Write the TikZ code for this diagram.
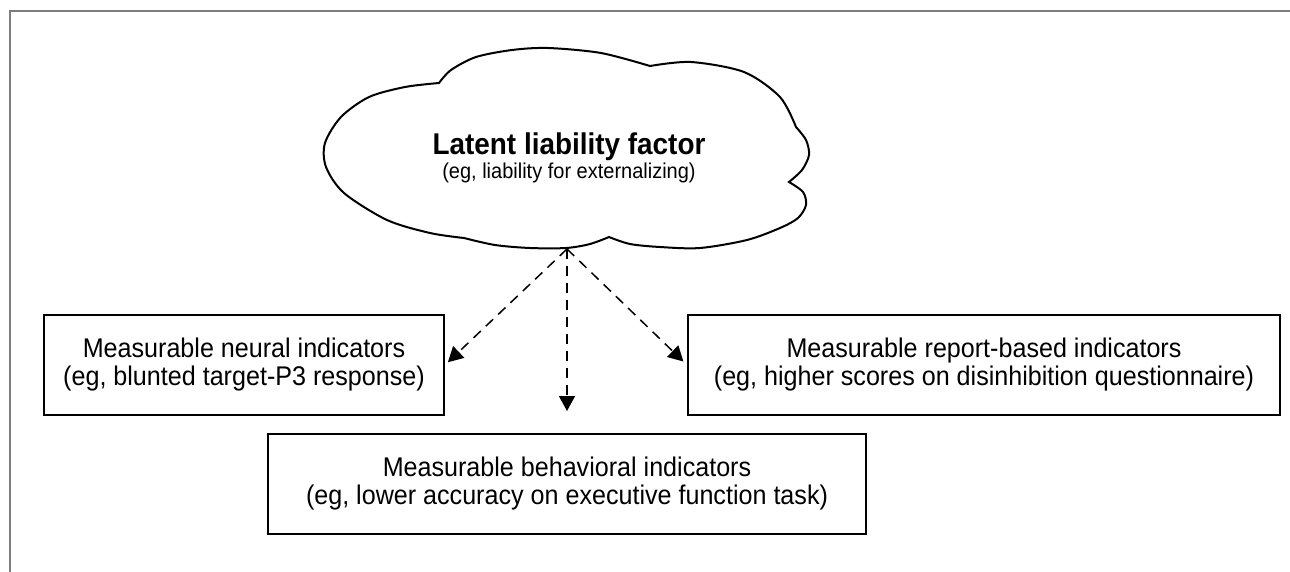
\documentclass[tikz,border=0pt]{standalone}
\usepackage{fontspec}
\setmainfont{Liberation Sans}[FakeStretch=0.93]
\usetikzlibrary{arrows.meta,positioning}
\definecolor{framegray}{RGB}{125,125,125}

\tikzset{
  indbox/.style={draw, line width=2pt, inner sep=0pt, align=center, minimum height=100pt, font=\fontsize{27}{28}\selectfont},
  linkarrow/.style={->, dash pattern=on 10pt off 7pt, line width=1.5pt},
}

\begin{document}
\begin{tikzpicture}[x=1pt,y=-1pt,>={Triangle[length=15pt,width=16pt]}]
\useasboundingbox (0,0) rectangle (1290,571);
% frame (only top and left visible)
\draw[framegray, line width=2pt] (1292,11) -- (10,11) -- (10,573);
% cloud, puff by puff
\draw[line width=2pt]
  plot[smooth] coordinates {(464,238) (430,233) (387,220) (344,193) (326,167) (325,143) (341,117) (369,97) (405,87) (439,83)}
  -- plot[smooth] coordinates {(439,83) (451,70) (476,57) (512,50) (548,48) (601,53) (650,66)}
  -- plot[smooth] coordinates {(650,66) (691,62) (744,72) (780,97) (796,127)}
  -- plot[smooth] coordinates {(796,127) (806,140) (809,155) (802,170) (789,182)}
  -- plot[smooth] coordinates {(789,182) (803,192) (806,205) (798,218) (780,228) (747,240) (700,248) (660,247) (630,244) (609,237)}
  -- plot[smooth] coordinates {(609,237) (590,244) (566,248) (530,248) (495,245) (464,238)}
  -- cycle;
\node[anchor=base] (latent) at (569,154) {\fontsize{30}{30}\selectfont\bfseries Latent liability factor};
\node[anchor=base] (latentsub) at (569,178) {\fontsize{21.5}{24}\selectfont (eg, liability for externalizing)};
\coordinate (root) at (567,249);

% indicator boxes
\node[indbox, minimum width=400pt] (neural) at (244,365) {Measurable neural indicators\\(eg, blunted target-P3 response)};
\node[indbox, minimum width=592pt] (report) at (984,365) {Measurable report-based indicators\\(eg, higher scores on disinhibition questionnaire)};
\node[indbox, minimum width=598pt] (behav) at (567,484) {Measurable behavioral indicators\\(eg, lower accuracy on executive function task)};

\path
  (root) edge[linkarrow, shorten >=4pt] (neural.east)
         edge[linkarrow, shorten >=22pt] (behav.north)
         edge[linkarrow, shorten >=5pt] (report.west);
\end{tikzpicture}
\end{document}
